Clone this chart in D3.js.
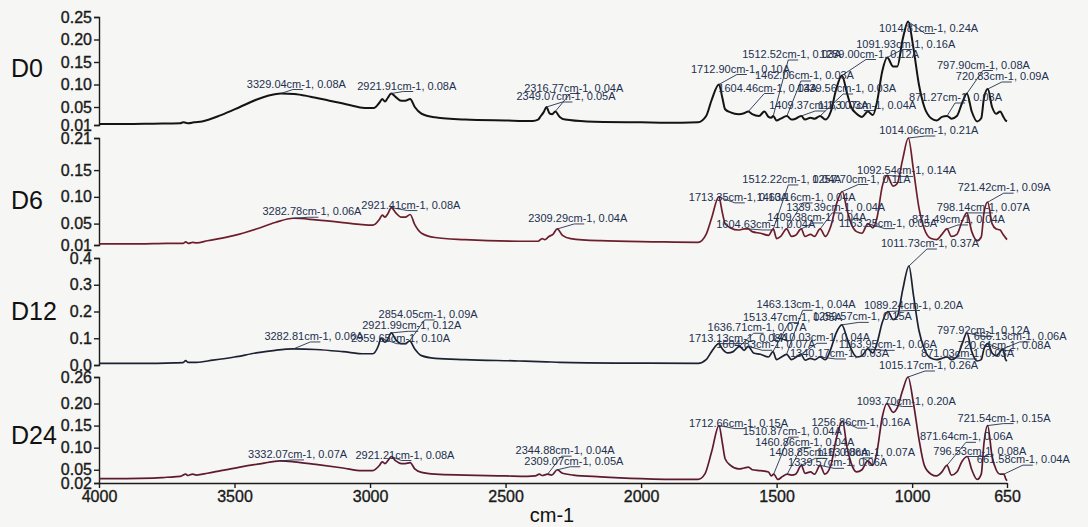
<!DOCTYPE html>
<html>
<head>
<meta charset="utf-8">
<script src="https://cdn.jsdelivr.net/npm/d3@7"></script>
<style>
  html, body { margin: 0; padding: 0; background: #f6f6f4; }
  svg { display: block; font-family: "Liberation Sans", Arial, sans-serif; }
</style>
</head>
<body>
<svg id="chart" width="1088" height="527"></svg>
<script>
// ---- data -----------------------------------------------------------------
const wavenumberTicks = [4000, 3500, 3000, 2500, 2000, 1500, 1000, 650];
const panelNames = ["D0", "D6", "D12", "D24"];
const yDomains = [[0.01, 0.25], [0.01, 0.21], [0, 0.4], [0.02, 0.26]];
const yTickValues = [
  [0.01, 0.05, 0.10, 0.15, 0.20, 0.25],
  [0.01, 0.05, 0.10, 0.15, 0.21],
  [0.0, 0.1, 0.2, 0.3, 0.4],
  [0.02, 0.05, 0.10, 0.15, 0.20, 0.26]
];
const yTickDecimals = [2, 2, 1, 2];

// spectra: [wavenumber cm-1, absorbance A]
const spectrumD0 = [
  [4000,0.012],[3900,0.012],[3800,0.013],[3700,0.014],[3690,0.016],[3680,0.015],[3670,0.014],
  [3650,0.016],[3620,0.018],[3550,0.032],[3480,0.05],[3420,0.066],[3370,0.076],[3329.04,0.08],
  [3280,0.079],[3220,0.073],[3150,0.064],[3080,0.055],[3020,0.048],[2985,0.048],[2965,0.06],
  [2955,0.068],[2945,0.062],[2935,0.07],[2921.91,0.08],[2905,0.072],[2885,0.064],[2870,0.064],
  [2852,0.068],[2835,0.05],[2810,0.035],[2760,0.027],[2650,0.022],[2500,0.02],[2400,0.019],
  [2380,0.022],[2370,0.03],[2360,0.038],[2349.07,0.05],[2338,0.036],[2328,0.034],[2316.77,0.04],
  [2300,0.028],[2280,0.022],[2200,0.018],[2000,0.016],[1850,0.015],[1790,0.016],[1760,0.03],
  [1740,0.065],[1712.90,0.10],[1700,0.07],[1690,0.045],[1670,0.038],[1640,0.034],[1620,0.036],
  [1604.46,0.04],[1590,0.034],[1565,0.03],[1545,0.04],[1530,0.028],[1520,0.026],[1512.52,0.03],
  [1500,0.02],[1485,0.024],[1462.06,0.03],[1445,0.022],[1430,0.024],[1409.37,0.03],[1395,0.022],
  [1375,0.026],[1360,0.024],[1339.56,0.03],[1320,0.022],[1300,0.04],[1280,0.09],[1259.00,0.12],
  [1240,0.08],[1225,0.05],[1205,0.035],[1185,0.028],[1163.07,0.04],[1145,0.032],[1130,0.06],
  [1110,0.13],[1091.93,0.16],[1070,0.14],[1055,0.14],[1035,0.2],[1014.81,0.24],[995,0.18],
  [975,0.1],[955,0.05],[930,0.025],[910,0.02],[890,0.028],[871.27,0.03],[855,0.024],[835,0.03],
  [815,0.06],[797.90,0.08],[780,0.04],[760,0.018],[745,0.025],[735,0.07],[720.83,0.09],[705,0.05],
  [690,0.035],[675,0.04],[665,0.03],[655,0.02],[650,0.018]
];
const spectrumD6 = [
  [4000,0.012],[3850,0.012],[3750,0.013],[3690,0.013],[3680,0.016],[3670,0.013],[3655,0.015],
  [3640,0.014],[3600,0.018],[3500,0.028],[3420,0.04],[3350,0.052],[3282.78,0.06],[3200,0.057],
  [3100,0.052],[3030,0.048],[2990,0.047],[2965,0.058],[2955,0.066],[2945,0.062],[2935,0.068],
  [2921.41,0.08],[2905,0.07],[2885,0.062],[2870,0.062],[2852,0.067],[2835,0.048],[2810,0.032],
  [2760,0.024],[2650,0.02],[2450,0.017],[2380,0.017],[2365,0.022],[2355,0.02],[2340,0.026],
  [2325,0.03],[2309.29,0.04],[2290,0.028],[2260,0.022],[2150,0.018],[1950,0.016],[1790,0.015],
  [1760,0.03],[1740,0.06],[1713.35,0.10],[1700,0.07],[1690,0.05],[1670,0.042],[1640,0.038],
  [1620,0.04],[1604.63,0.04],[1590,0.035],[1560,0.032],[1530,0.028],[1512.22,0.04],[1500,0.022],
  [1485,0.026],[1463.16,0.04],[1445,0.026],[1430,0.028],[1409.38,0.04],[1395,0.026],[1375,0.03],
  [1360,0.026],[1339.39,0.04],[1320,0.026],[1300,0.045],[1280,0.085],[1257.70,0.11],[1240,0.075],
  [1225,0.05],[1205,0.035],[1185,0.032],[1163.25,0.05],[1145,0.042],[1130,0.06],[1110,0.12],
  [1092.54,0.14],[1070,0.12],[1055,0.125],[1035,0.17],[1014.06,0.21],[995,0.15],[975,0.08],
  [955,0.04],[930,0.022],[910,0.02],[890,0.03],[871.49,0.04],[855,0.026],[835,0.03],[815,0.055],
  [798.14,0.07],[780,0.035],[760,0.018],[745,0.025],[735,0.07],[721.42,0.09],[705,0.05],
  [690,0.04],[675,0.038],[665,0.03],[650,0.02]
];
const spectrumD12 = [
  [4000,0.006],[3850,0.006],[3720,0.008],[3690,0.009],[3680,0.016],[3672,0.01],[3640,0.01],
  [3580,0.018],[3500,0.03],[3420,0.045],[3350,0.055],[3282.81,0.06],[3200,0.058],[3100,0.05],
  [3020,0.042],[2990,0.042],[2970,0.07],[2959.65,0.10],[2945,0.085],[2935,0.095],[2921.99,0.12],
  [2905,0.095],[2885,0.08],[2870,0.08],[2854.05,0.09],[2835,0.06],[2810,0.035],[2760,0.025],
  [2650,0.02],[2450,0.015],[2350,0.012],[2300,0.01],[2000,0.007],[1790,0.006],[1760,0.02],
  [1740,0.05],[1713.13,0.08],[1700,0.06],[1680,0.045],[1660,0.05],[1636.71,0.07],[1620,0.055],
  [1604.83,0.07],[1585,0.045],[1560,0.04],[1530,0.03],[1513.47,0.05],[1500,0.02],[1485,0.028],
  [1463.13,0.04],[1445,0.02],[1430,0.028],[1410.03,0.04],[1395,0.018],[1375,0.025],[1360,0.02],
  [1340.17,0.03],[1320,0.02],[1300,0.06],[1280,0.12],[1259.57,0.15],[1240,0.1],[1225,0.06],
  [1205,0.03],[1185,0.035],[1163.95,0.06],[1145,0.045],[1130,0.08],[1110,0.16],[1089.24,0.20],
  [1070,0.17],[1055,0.18],[1035,0.28],[1011.73,0.37],[995,0.26],[975,0.13],[955,0.06],[930,0.025],
  [910,0.02],[890,0.025],[871.03,0.03],[855,0.02],[835,0.03],[815,0.08],[797.92,0.12],[780,0.05],
  [760,0.015],[745,0.02],[735,0.06],[720.64,0.08],[705,0.045],[690,0.035],[675,0.05],[666.13,0.06],
  [655,0.02],[650,0.015]
];
const spectrumD24 = [
  [4000,0.03],[3900,0.03],[3800,0.031],[3750,0.033],[3700,0.035],[3680,0.04],[3672,0.037],
  [3655,0.04],[3640,0.038],[3600,0.042],[3550,0.048],[3480,0.056],[3400,0.064],[3332.07,0.07],
  [3280,0.068],[3200,0.062],[3100,0.054],[3030,0.048],[2990,0.048],[2965,0.06],[2955,0.068],
  [2945,0.064],[2935,0.07],[2921.21,0.08],[2905,0.07],[2885,0.064],[2870,0.064],[2852,0.066],
  [2835,0.052],[2810,0.044],[2760,0.04],[2650,0.038],[2500,0.036],[2420,0.035],[2390,0.036],
  [2375,0.04],[2365,0.037],[2344.88,0.04],[2330,0.038],[2309.07,0.05],[2290,0.042],[2250,0.038],
  [2150,0.034],[2000,0.03],[1850,0.028],[1790,0.028],[1765,0.04],[1740,0.09],[1712.66,0.15],
  [1700,0.11],[1690,0.075],[1670,0.06],[1640,0.052],[1620,0.054],[1604,0.056],[1590,0.05],
  [1560,0.048],[1530,0.045],[1520,0.036],[1510.87,0.04],[1495,0.028],[1478,0.035],[1460.86,0.04],
  [1445,0.038],[1430,0.04],[1408.85,0.06],[1395,0.042],[1375,0.045],[1360,0.04],[1339.57,0.06],
  [1322,0.04],[1300,0.06],[1280,0.12],[1256.86,0.16],[1240,0.1],[1225,0.065],[1205,0.045],
  [1185,0.05],[1163.68,0.07],[1145,0.06],[1130,0.09],[1110,0.17],[1093.70,0.20],[1070,0.18],
  [1055,0.19],[1035,0.23],[1015.17,0.26],[995,0.2],[975,0.12],[955,0.06],[930,0.04],[910,0.036],
  [890,0.045],[871.64,0.06],[855,0.038],[835,0.045],[815,0.07],[796.53,0.08],[780,0.05],
  [760,0.028],[745,0.04],[735,0.11],[721.54,0.15],[705,0.08],[690,0.05],[675,0.04],[661.58,0.04],
  [655,0.03],[650,0.025]
];

// annotated peaks: [wavenumber, absorbance]
const peaksD0 = [
  [3329.04,0.08],[2921.91,0.08],[2349.07,0.05],[2316.77,0.04],[1712.90,0.10],[1604.46,0.04],
  [1512.52,0.03],[1462.06,0.03],[1409.37,0.03],[1339.56,0.03],[1259.00,0.12],[1163.07,0.04],
  [1091.93,0.16],[1014.81,0.24],[871.27,0.03],[797.90,0.08],[720.83,0.09]
];
const peaksD6 = [
  [3282.78,0.06],[2921.41,0.08],[2309.29,0.04],[1713.35,0.10],[1463.16,0.04],[1512.22,0.04],
  [1257.70,0.11],[1339.39,0.04],[1409.38,0.04],[1604.63,0.04],[1163.25,0.05],[871.49,0.04],
  [1092.54,0.14],[1014.06,0.21],[798.14,0.07],[721.42,0.09]
];
const peaksD12 = [
  [3282.81,0.06],[2959.65,0.10],[2921.99,0.12],[2854.05,0.09],[1713.13,0.08],[1636.71,0.07],
  [1604.83,0.07],[1513.47,0.05],[1259.57,0.15],[1463.13,0.04],[1089.24,0.20],[1410.03,0.04],
  [1340.17,0.03],[1163.95,0.06],[1011.73,0.37],[871.03,0.03],[797.92,0.12],[720.64,0.08],
  [666.13,0.06]
];
const peaksD24 = [
  [3332.07,0.07],[2921.21,0.08],[2344.88,0.04],[2309.07,0.05],[1712.66,0.15],[1510.87,0.04],
  [1256.86,0.16],[1460.86,0.04],[1408.85,0.06],[1163.68,0.07],[1339.57,0.06],[1093.70,0.20],
  [1015.17,0.26],[871.64,0.06],[796.53,0.08],[721.54,0.15],[661.58,0.04]
];

// ---- layout ---------------------------------------------------------------
// label text offset from its peak point, in px: [dx to text start, dy to baseline]
const labelOffsets = [
  [[-34,-6],[-34,-4],[-30,-7],[-31,-20],[-28,-12],[-30,-20],[-31,-58],[-32,-37],[-32,-7],
   [-23,-24],[-22,-18],[-50,-3],[-31,-10],[-29,10],[-38,-15],[-30,-25],[-32,-9]],
  [[-31,-3],[-30,1],[-29,-7],[-30,4],[-30,-28],[-31,-46],[-30,-9],[-34,-18],[-34,-8],[-32,-1],
   [-29,3],[-35,-6],[-30,-1],[-29,-4],[-30,-2],[-30,-11]],
  [[-29,-9],[-30,3.5],[-29,-3.6],[-31,-23],[-30,-2],[-32,-15],[-32,2],[-30,-31],[-29,-4.5],
   [-30,-46],[-24,-3],[-30,-13],[-30,0],[-29,-0.6],[-28,-19],[-26,0],[-30,1.5],[-30,5],[-29,-9]],
  [[-32,-3],[-36,2],[-32,-20],[-33,-5],[-30,1],[-31,-39],[-31,5],[-32,-28.5],[-32,-9],[-51,-5],
   [-32,1],[-30,1],[-29,-8],[-27,-25],[-34,-2],[-30,-4],[-27,-11]]
];
const spectra = [spectrumD0, spectrumD6, spectrumD12, spectrumD24];
const peaks = [peaksD0, peaksD6, peaksD12, peaksD24];

const plotLeft = 99, plotRight = 1007;
const bands = [[17,125],[138,245],[258,365],[377,483]];
const nameBaselines = [77, 209, 320, 444];
const lineColors = ["#141414", "#6d1e2c", "#1d2233", "#5e1a33"];
const lineWidths = [2, 1.7, 1.7, 1.7];
const axisColor = "#1c1c1c";
const labelColor = "#22304f";

const svg = d3.select("#chart");
const x = d3.scaleLinear().domain([4000, 650]).range([plotLeft, plotRight]);

panelNames.forEach((name, i) => {
  const y = d3.scaleLinear().domain(yDomains[i]).range([bands[i][1], bands[i][0]]);
  const g = svg.append("g");

  // y axis
  const yAxis = d3.axisLeft(y)
    .tickValues(yTickValues[i])
    .tickSize(5).tickSizeOuter(5).tickPadding(2)
    .tickFormat(d3.format("." + yTickDecimals[i] + "f"));
  const ya = g.append("g").attr("transform", `translate(${plotLeft},0)`).call(yAxis);
  ya.select(".domain").attr("stroke", axisColor).attr("stroke-width", 1.4);
  ya.selectAll(".tick line").attr("stroke", axisColor).attr("stroke-width", 1.4);
  ya.selectAll(".tick text")
    .attr("fill", "#1a1a1a").attr("stroke", "#1a1a1a").attr("stroke-width", 0.35)
    .style("font-size", "16px").style("font-family", '"Liberation Sans", Arial, sans-serif');

  // panel name
  g.append("text")
    .attr("x", 11).attr("y", nameBaselines[i])
    .attr("fill", "#111").style("font-size", "25px")
    .text(name);

  // spectrum
  const line = d3.line()
    .x(d => x(d[0])).y(d => y(d[1]))
    .curve(d3.curveMonotoneX);
  g.append("path")
    .datum(spectra[i])
    .attr("fill", "none")
    .attr("stroke", lineColors[i])
    .attr("stroke-width", lineWidths[i])
    .attr("stroke-linejoin", "round")
    .attr("d", line);

  // peak annotations
  const ann = g.append("g");
  peaks[i].forEach((p, k) => {
    const px = x(p[0]), py = y(p[1]);
    const off = labelOffsets[i][k];
    const tx = px + off[0], ty = py + off[1];
    const lx = tx + 46, ly = ty + 2;
    ann.append("path")
      .attr("d", `M${px},${py}L${lx},${ly}h10`)
      .attr("fill", "none").attr("stroke", labelColor).attr("stroke-width", 0.9);
    ann.append("text")
      .attr("x", tx).attr("y", ty)
      .attr("fill", labelColor)
      .style("font-size", "11px")
      .text(`${p[0].toFixed(2)}cm-1, ${p[1].toFixed(2)}A`);
  });

  // bottom axis on the last panel
  if (i === panelNames.length - 1) {
    const xAxis = d3.axisBottom(x)
      .tickValues(wavenumberTicks)
      .tickSize(5).tickSizeOuter(0).tickPadding(3)
      .tickFormat(d3.format("d"));
    const xa = svg.append("g").attr("transform", `translate(0,${bands[i][1]})`).call(xAxis);
    xa.select(".domain").attr("stroke", axisColor).attr("stroke-width", 1.4);
    xa.selectAll(".tick line").attr("stroke", axisColor).attr("stroke-width", 1.4);
    xa.selectAll(".tick text")
      .attr("fill", "#1a1a1a").attr("stroke", "#1a1a1a").attr("stroke-width", 0.35)
      .style("font-size", "16px").style("font-family", '"Liberation Sans", Arial, sans-serif');
    svg.append("text")
      .attr("x", 552).attr("y", 522)
      .attr("text-anchor", "middle")
      .attr("fill", "#111").style("font-size", "20px")
      .text("cm-1");
  }
});
</script>
</body>
</html>
